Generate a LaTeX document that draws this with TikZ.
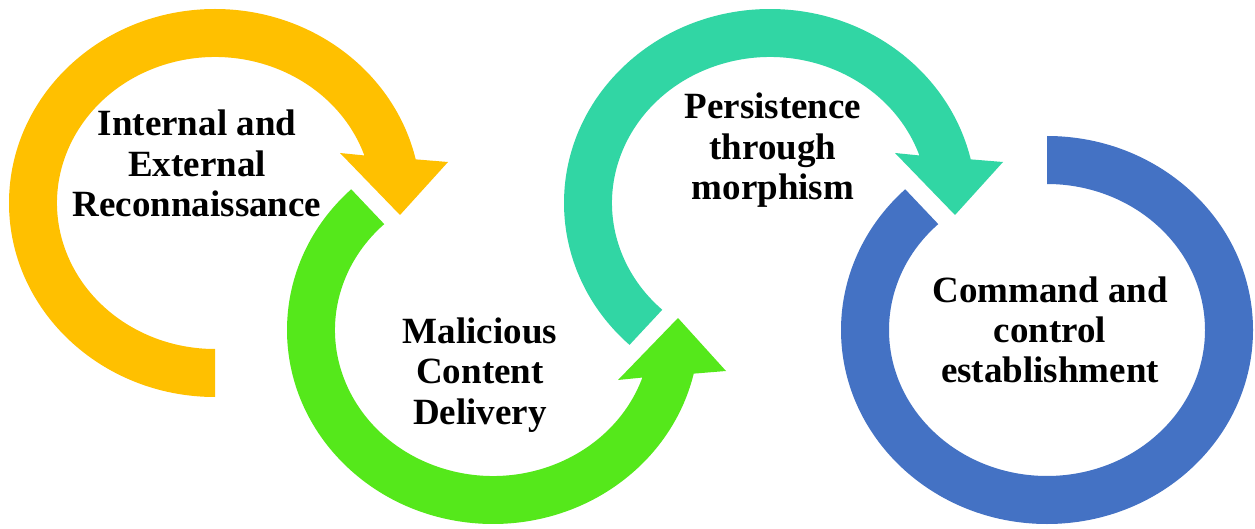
\documentclass[tikz,border=0pt]{standalone}
\usepackage{fontspec}
\setmainfont{Liberation Serif}
\begin{document}
\begin{tikzpicture}[x=1pt,y=1pt,
  label/.style={anchor=base,inner sep=0pt,font=\bfseries\fontsize{37}{40.5}\selectfont},
  ringfill/.style={fill=#1,draw=none}]
\definecolor{ringyellow}{HTML}{FFC000}
\definecolor{ringgreen}{HTML}{55E81B}
\definecolor{ringteal}{HTML}{31D6A4}
\definecolor{ringblue}{HTML}{4472C4}
\useasboundingbox (0,-529) rectangle (1255,0);
\fill[white] (0,-529) rectangle (1255,0);

% Stage 1: clockwise arrow, tail at the bottom
\begin{scope}[shift={(215,-203)}]
  \fill[ringfill=ringyellow] (270:206pt and 194pt)
    arc[start angle=270,end angle=13,x radius=206pt,y radius=194pt]
    -- (233,41) -- (185,-12) -- (125,50)
    -- (19:158pt and 146pt)
    arc[start angle=19,end angle=270,x radius=158pt,y radius=146pt] -- cycle;
\end{scope}

% Stage 2: counter-clockwise arrow
\begin{scope}[shift={(493,-330)}]
  \fill[ringfill=ringgreen] (133.5:206pt and 194pt)
    arc[start angle=133.5,end angle=347,x radius=206pt,y radius=194pt]
    -- (233,-41) -- (185,12) -- (125,-50)
    -- (341:158pt and 146pt)
    arc[start angle=341,end angle=133.5,x radius=158pt,y radius=146pt] -- cycle;
\end{scope}

% Stage 3: clockwise arrow, tail at the lower left
\begin{scope}[shift={(770,-203)}]
  \fill[ringfill=ringteal] (227:206pt and 194pt)
    arc[start angle=227,end angle=13,x radius=206pt,y radius=194pt]
    -- (233,41) -- (185,-12) -- (125,50)
    -- (19:158pt and 146pt)
    arc[start angle=19,end angle=227,x radius=158pt,y radius=146pt] -- cycle;
\end{scope}

% Stage 4: open ring without a head
\begin{scope}[shift={(1047,-330)}]
  \fill[ringfill=ringblue] (90:206pt and 194pt)
    arc[start angle=90,end angle=-226.5,x radius=206pt,y radius=194pt]
    -- (-226.5:158pt and 146pt)
    arc[start angle=-226.5,end angle=90,x radius=158pt,y radius=146pt] -- cycle;
\end{scope}

% Stage labels
\node[label] (recA) at (197,-136) {Internal and};
\node[label] (recB) at (197,-176.5) {External};
\node[label] (recC) at (197,-217) {Reconnaissance};

\node[label] (malA) at (480,-343) {Malicious};
\node[label] (malB) at (480,-383.5) {Content};
\node[label] (malC) at (480,-424) {Delivery};

\node[label] (perA) at (773,-119) {Persistence};
\node[label] (perB) at (773,-159.5) {through};
\node[label] (perC) at (773,-200) {morphism};

\node[label] (cncA) at (1050,-302) {Command and};
\node[label] (cncB) at (1050,-342) {control};
\node[label] (cncC) at (1050,-382) {establishment};
\end{tikzpicture}
\end{document}
